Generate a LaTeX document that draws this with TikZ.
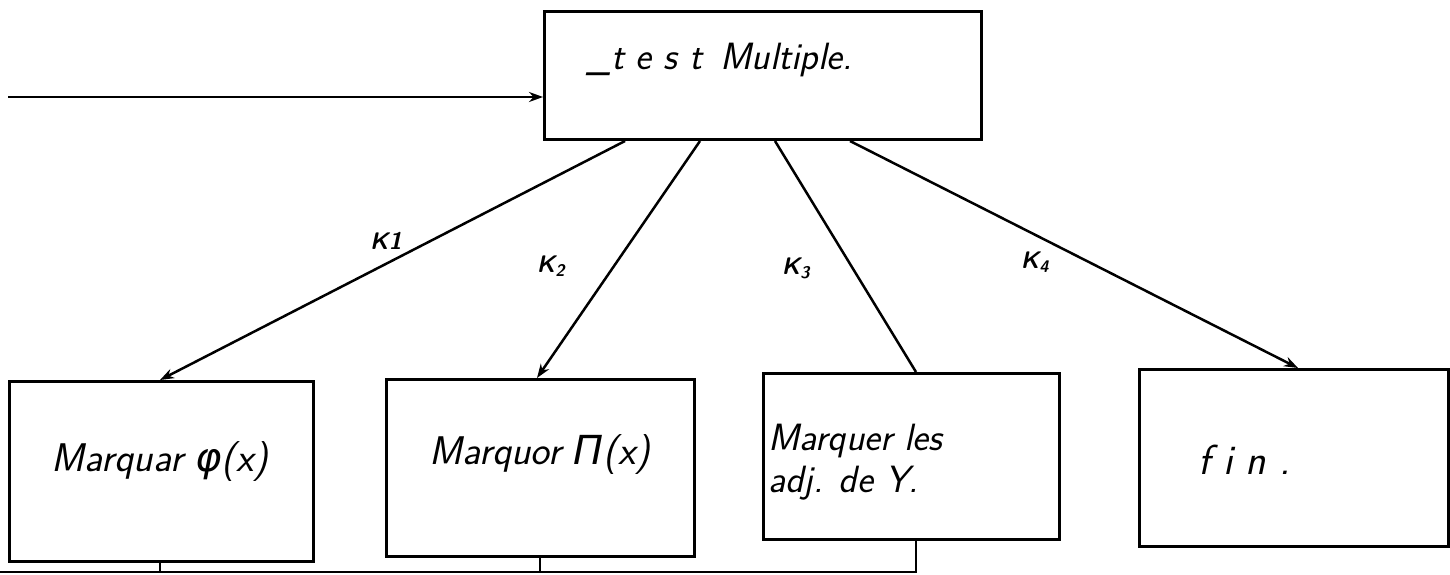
\documentclass[tikz,border=0pt]{standalone}
\usepackage{fontspec}
\newfontfamily\grk{DejaVu Sans}
\usetikzlibrary{arrows.meta}
\tikzset{
  box/.style={draw, line width=3pt, rectangle, anchor=north west, inner sep=0pt},
  conn/.style={line width=2.5pt},
  tip/.style={conn, -{Stealth[length=14pt,width=10pt]}},
  lbl/.style={font=\fontsize{40}{46}\selectfont\sffamily\slshape, inner sep=0pt},
  klbl/.style={font=\fontsize{24}{28}\selectfont\sffamily\bfseries\slshape, inner sep=0pt}
}
\begin{document}
\begin{tikzpicture}[x=1pt,y=-1pt]
\useasboundingbox (0,0) rectangle (1450,575);
% boxes
\node[box, minimum width=437pt, minimum height=128pt] (top) at (543,10) {};
\node[box, minimum width=304pt, minimum height=180pt] (b1) at (8,380) {};
\node[box, minimum width=308pt, minimum height=177pt] (b2) at (385,378) {};
\node[box, minimum width=296pt, minimum height=166pt] (b3) at (762,372) {};
\node[box, minimum width=309pt, minimum height=177pt] (b4) at (1138,368) {};
% texts
\node[lbl, font=\fontsize{38}{42}\selectfont\sffamily\slshape] (ttop) at (720,60) {\_t e s t \,Multiple.};
\node[lbl] (t1) at (160,462) {Marquar {\grk\itshape φ}(x)};
\node[lbl] (t2) at (540,455) {Marquor {\grk\itshape Π}(x)};
\node[lbl, anchor=west, align=left, font=\fontsize{38}{42}\selectfont\sffamily\slshape] (t3) at (768,462) {Marquer les\\adj. de Y.};
\node[lbl, anchor=west, font=\fontsize{42}{46}\selectfont\sffamily\slshape] (t4) at (1198,460) {f i n .};
% K labels
\node[klbl] (k1) at (386,241) {K1};
\node[klbl] (k2) at (551,266) {K\textsubscript{2}};
\node[klbl] (k3) at (796,268) {K\textsubscript{3}};
\node[klbl] (k4) at (1035,262) {K\textsubscript{4}};
% incoming arrow
\coordinate (in) at (8,97);
\draw[tip] (in) -- (in -| top.west);
% branches
\draw[tip] ([xshift=82pt]top.south west) -- ([xshift=152pt]b1.north west);
\draw[tip] ([xshift=157pt]top.south west) -- ([xshift=152pt]b2.north west);
\draw[conn] ([xshift=232pt]top.south west) -- ([xshift=154pt]b3.north west);
\draw[tip] ([xshift=307pt]top.south west) -- ([xshift=160pt]b4.north west);
% bottom bus
\coordinate (bus) at (0,572);
\draw[conn] ([xshift=154pt]b3.south west) |- (bus);
\draw[conn] ([xshift=152pt]b1.south west) -- ([xshift=152pt]b1.south west |- bus);
\draw[conn] ([xshift=155pt]b2.south west) -- ([xshift=155pt]b2.south west |- bus);
\end{tikzpicture}
\end{document}
